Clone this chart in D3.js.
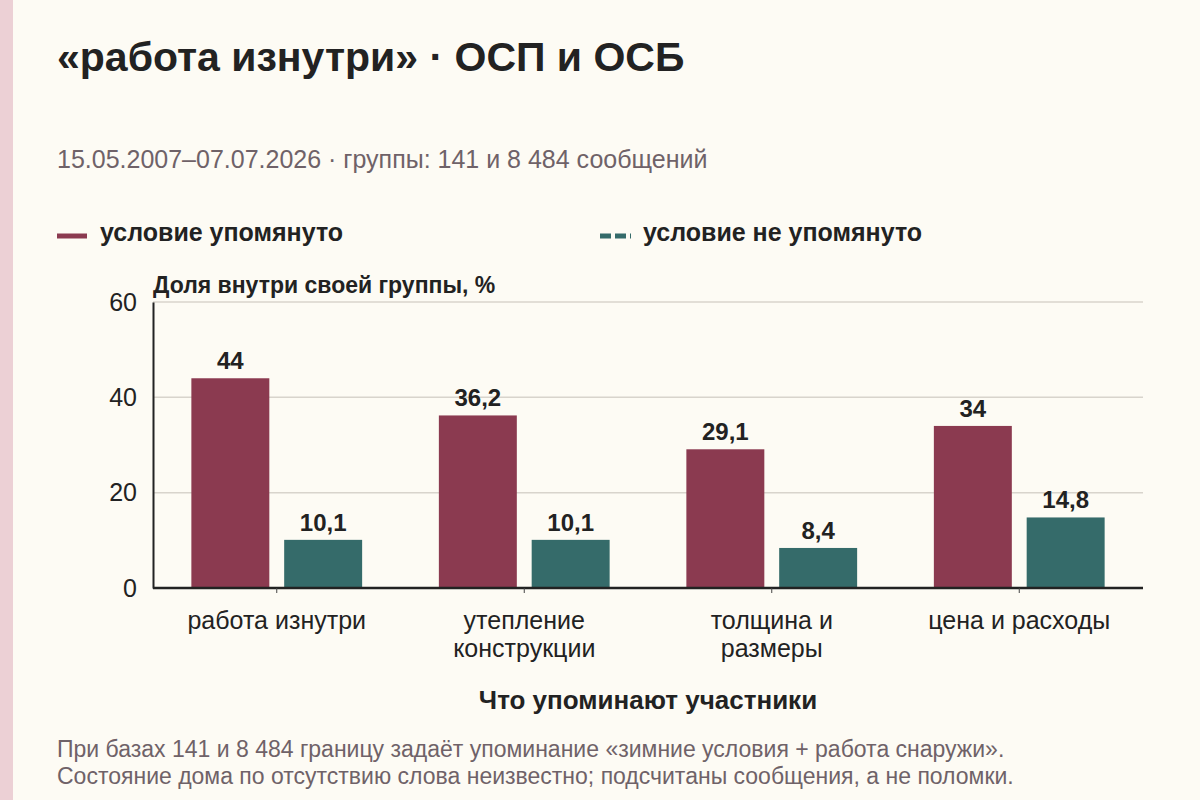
<!DOCTYPE html>
<html>
<head>
<meta charset="utf-8">
<script src="https://cdn.jsdelivr.net/npm/d3@7/dist/d3.min.js"></script>
<style>
  html, body { margin: 0; padding: 0; background: #fdfbf4; }
  svg { display: block; font-family: "Liberation Sans", Arial, sans-serif; }
</style>
</head>
<body>
<script>
(function(d3) {

  var width = 1200, height = 800;

  // Data
  var categories = [["работа изнутри"], ["утепление", "конструкции"], ["толщина и", "размеры"], ["цена и расходы"]];
  var seriesNames = ["условие упомянуто", "условие не упомянуто"];
  var mentioned = [44, 36.2, 29.1, 34];
  var notMentioned = [10.1, 10.1, 8.4, 14.8];
  var yTicks = [0, 20, 40, 60];

  var colors = ["#8b3a50", "#356b6a"];

  var svg = d3.select("body").append("svg")
    .attr("width", width)
    .attr("height", height);

  svg.append("rect").attr("width", width).attr("height", height).attr("fill", "#fdfbf4");
  // pink stripe on the left edge
  svg.append("rect").attr("width", 13).attr("height", height).attr("fill", "#ecd0d5");

  // Titles
  svg.append("text").attr("x", 57).attr("y", 71)
    .attr("font-size", 41).attr("font-weight", "bold").attr("fill", "#222")
    .text("«работа изнутри» · ОСП и ОСБ");

  svg.append("text").attr("x", 57).attr("y", 168)
    .attr("font-size", 25).attr("fill", "#6f6268")
    .text("15.05.2007–07.07.2026 · группы: 141 и 8 484 сообщений");

  // Legend
  var legend = svg.append("g");
  legend.append("line").attr("x1", 57).attr("x2", 87).attr("y1", 236).attr("y2", 236)
    .attr("stroke", colors[0]).attr("stroke-width", 5);
  legend.append("text").attr("x", 100).attr("y", 241)
    .attr("font-size", 25).attr("font-weight", "bold").attr("fill", "#222")
    .text(seriesNames[0]);
  legend.append("line").attr("x1", 600).attr("x2", 631).attr("y1", 236).attr("y2", 236)
    .attr("stroke", colors[1]).attr("stroke-width", 5).attr("stroke-dasharray", "11,4");
  legend.append("text").attr("x", 643).attr("y", 241)
    .attr("font-size", 25).attr("font-weight", "bold").attr("fill", "#222")
    .text(seriesNames[1]);

  // Scales
  var plot = { left: 153, right: 1143, top: 302, bottom: 588 };

  var y = d3.scaleLinear().domain([0, 60]).range([plot.bottom, plot.top]);

  var x0 = d3.scaleBand()
    .domain(d3.range(categories.length))
    .range([plot.left, plot.right])
    .paddingInner(0.31)
    .paddingOuter(0.155);

  var x1 = d3.scaleBand()
    .domain(d3.range(seriesNames.length))
    .range([0, x0.bandwidth()])
    .paddingInner(0.16);

  // Gridlines
  svg.append("g").selectAll("line")
    .data(yTicks.filter(function(t) { return t > 0; }))
    .join("line")
    .attr("x1", plot.left).attr("x2", plot.right)
    .attr("y1", function(d) { return y(d); })
    .attr("y2", function(d) { return y(d); })
    .attr("stroke", "#d8d4cc").attr("stroke-width", 1.5);

  // Y axis
  var yAxis = svg.append("g")
    .attr("transform", "translate(" + plot.left + ",0)")
    .call(d3.axisLeft(y).tickValues(yTicks).tickSize(0).tickPadding(16));
  yAxis.select(".domain").attr("stroke", "#222").attr("stroke-width", 2);
  yAxis.selectAll("text").attr("font-size", 25).attr("fill", "#222")
    .attr("font-family", "Liberation Sans, Arial, sans-serif");

  svg.append("text").attr("x", plot.left).attr("y", 293)
    .attr("font-size", 23).attr("font-weight", "bold").attr("fill", "#222")
    .text("Доля внутри своей группы, %");

  // Bars
  var rows = categories.map(function(c, i) {
    return [mentioned[i], notMentioned[i]];
  });

  var groups = svg.append("g").selectAll("g")
    .data(rows)
    .join("g")
    .attr("transform", function(d, i) { return "translate(" + x0(i) + ",0)"; });

  groups.selectAll("rect")
    .data(function(d) { return d; })
    .join("rect")
    .attr("x", function(d, j) { return x1(j); })
    .attr("y", function(d) { return y(d); })
    .attr("width", x1.bandwidth())
    .attr("height", function(d) { return y(0) - y(d); })
    .attr("fill", function(d, j) { return colors[j]; });

  groups.selectAll("text")
    .data(function(d) { return d; })
    .join("text")
    .attr("x", function(d, j) { return x1(j) + x1.bandwidth() / 2; })
    .attr("y", function(d) { return y(d) - 9; })
    .attr("text-anchor", "middle")
    .attr("font-size", 24).attr("font-weight", "bold").attr("fill", "#222")
    .text(function(d) { return String(d).replace(".", ","); });

  // X axis
  var xAxis = svg.append("g")
    .attr("transform", "translate(0," + plot.bottom + ")")
    .call(d3.axisBottom(x0).tickSize(5).tickFormat(""));
  xAxis.select(".domain").attr("stroke", "#222").attr("stroke-width", 2.5)
    .attr("d", "M" + plot.left + ",0H" + plot.right);
  xAxis.selectAll(".tick line").attr("stroke", "#444").attr("stroke-width", 1);

  var labels = svg.append("g").selectAll("text")
    .data(categories)
    .join("text")
    .attr("text-anchor", "middle")
    .attr("font-size", 25).attr("fill", "#222")
    .attr("transform", function(d, i) {
      return "translate(" + (x0(i) + x0.bandwidth() / 2) + ",629)";
    });
  labels.selectAll("tspan")
    .data(function(d) { return d; })
    .join("tspan")
    .attr("x", 0)
    .attr("dy", function(d, k) { return k === 0 ? 0 : 28; })
    .text(function(d) { return d; });

  svg.append("text").attr("x", (plot.left + plot.right) / 2).attr("y", 709)
    .attr("text-anchor", "middle")
    .attr("font-size", 26).attr("font-weight", "bold").attr("fill", "#222")
    .text("Что упоминают участники");

  // Footnote
  var note = svg.append("text").attr("x", 57).attr("y", 757)
    .attr("font-size", 23).attr("fill", "#6f6268");
  note.append("tspan").attr("x", 57).attr("dy", 0)
    .text("При базах 141 и 8 484 границу задаёт упоминание «зимние условия + работа снаружи».");
  note.append("tspan").attr("x", 57).attr("dy", 27)
    .text("Состояние дома по отсутствию слова неизвестно; подсчитаны сообщения, а не поломки.");

})(d3);
</script>
</body>
</html>
